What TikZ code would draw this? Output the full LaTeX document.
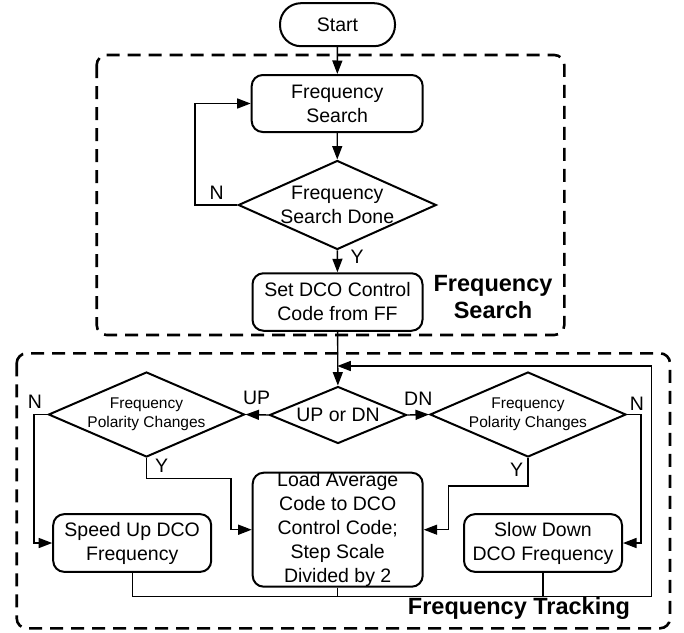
\documentclass[tikz,border=0pt]{standalone}
\usepackage{fontspec}
\setmainfont{Liberation Sans}
\usetikzlibrary{shapes.geometric,arrows.meta}
\begin{document}
\begin{tikzpicture}[x=1pt,y=-1pt,
  box/.style={draw, line width=2pt, rounded corners=11pt, inner sep=0pt, align=center, font=\fontsize{19.5}{24}\selectfont},
  dia/.style={draw, diamond, line width=2pt, inner sep=0pt},
  con/.style={line width=1.4pt},
  arr/.style={con, -{Triangle[length=13.5pt,width=10pt]}},
  grp/.style={draw, line width=2.6pt, dash pattern=on 13pt off 8pt, rounded corners=10pt},
  lbl/.style={font=\fontsize{19.5}{24}\selectfont, inner sep=0pt, align=center},
  small/.style={font=\fontsize{15.5}{19}\selectfont, align=center, inner sep=0pt},
  grptitle/.style={font=\bfseries\fontsize{23.5}{27.5}\selectfont, align=center, inner sep=0pt}
]
\useasboundingbox (0,0) rectangle (684,632);

% group frames
\draw[grp] (96.7,55) rectangle (564.3,335);
\draw[grp] (16.7,353.3) rectangle (670,628.3);
\node[grptitle] (tsearch) at (493,297) {Frequency\\Search};
\node[grptitle] (ttrack) at (519,608) {Frequency Tracking};

% nodes
\node[box, rounded corners=21pt, minimum width=115pt, minimum height=43pt] (start) at (337.5,24.7) {Start};
\node[box, minimum width=171pt, minimum height=57pt] (fs) at (337.2,103.5) {Frequency\\Search};
\node[dia, minimum width=198pt, minimum height=89pt,
      label={[lbl]center:Frequency\\Search Done}] (d1) at (337.3,205) {};
\node[box, minimum width=170pt, minimum height=57.5pt] (set) at (337.5,302) {Set DCO Control\\Code from FF};
\node[dia, minimum width=137pt, minimum height=57pt,
      label={[lbl]center:UP or DN}] (ud) at (338,415) {};
\node[dia, minimum width=196pt, minimum height=85pt,
      label={[small]center:Frequency\\Polarity Changes}] (dl) at (146.5,414.5) {};
\node[dia, minimum width=196pt, minimum height=85pt,
      label={[small]center:Frequency\\Polarity Changes}] (dr) at (528,414.5) {};
\node[box, minimum width=158pt, minimum height=57.7pt] (speed) at (132.2,543) {Speed Up DCO\\Frequency};
\node[box, minimum width=170pt, minimum height=114pt,
      label={[lbl]center:Load Average\\Code to DCO\\Control Code;\\Step Scale\\Divided by 2}] (load) at (337.7,529.7) {};
\node[box, minimum width=158pt, minimum height=57.7pt] (slow) at (543,543) {Slow Down\\DCO Frequency};

% helper coordinates
\coordinate (loopx) at (195,205);
\coordinate (ylk) at (231,478.3);
\coordinate (yrk) at (448.3,486);
\coordinate (rb) at (651.7,596.5);
\coordinate (rt) at (651.7,366);
\coordinate (merge) at (337.3,366);
\coordinate (sb) at (132.2,596.5);

% connectors
\draw[arr] (start) -- (fs);
\draw[arr] (fs) -- (d1);
\draw[arr] (d1) -- (set);
\draw[arr] (d1.west) -- (loopx) |- (fs.west);
\draw[arr] (set) -- (ud);
\draw[arr] (ud.west) -- (dl.east);
\draw[arr] (ud.east) -- (dr.west);
\draw[arr] (dl.west) -- ++(-13.5,0) |- (speed.west);
\draw[arr] (dl.south) |- (ylk) |- (load.west);
\draw[arr] (dr.south) |- (yrk) |- (load.east);
\draw[arr] (dr.east) -- ++(14,0) |- (slow.east);
\draw[con] (speed.south) -- (sb) -- (rb) -- (rt);
\draw[arr] (rt) -- (merge);
\draw[con] (load.south) -- (load.south |- rb);
\draw[con] (slow.south) -- (slow.south |- rb);

% labels
\node[lbl] (ln1) at (216.7,193) {N};
\node[lbl] (ly1) at (357,256.7) {Y};
\node[lbl] (lup) at (256.7,398.3) {UP};
\node[lbl] (ldn) at (418.3,398.3) {DN};
\node[lbl] (lnl) at (35,401.7) {N};
\node[lbl] (lyl) at (161.7,466) {Y};
\node[lbl] (lnr) at (637,404) {N};
\node[lbl] (lyr) at (516.7,470) {Y};
\end{tikzpicture}
\end{document}
